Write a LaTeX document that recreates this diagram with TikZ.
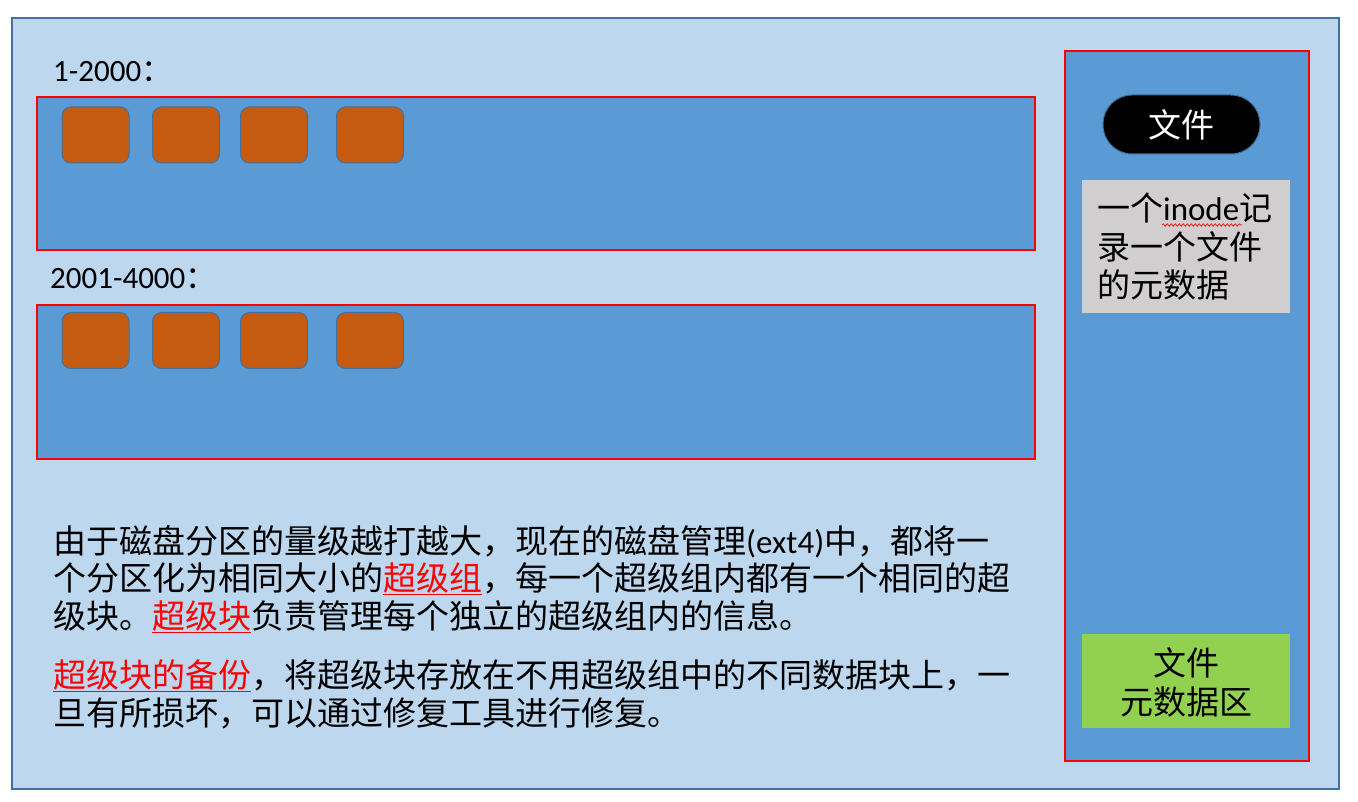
\documentclass[tikz,border=0pt]{standalone}
\usepackage{fontspec}
\setmainfont{Noto Sans CJK SC}
\newfontfamily\lat{Carlito}
\usetikzlibrary{decorations.pathmorphing}
\definecolor{outerfill}{HTML}{BDD7EE}
\definecolor{boxfill}{HTML}{5B9BD5}
\definecolor{edgeblue}{HTML}{41719C}
\definecolor{orangefill}{HTML}{C55A11}
\definecolor{grayfill}{HTML}{D0CECE}
\definecolor{greenfill}{HTML}{92D050}
\definecolor{hred}{HTML}{FF0000}
\newcommand{\hl}[1]{\textcolor{hred}{\underline{#1}}}
\begin{document}
\begin{tikzpicture}[x=1pt,y=-1pt,
  outerbox/.style={draw=edgeblue,line width=1.5pt,fill=outerfill,inner sep=0pt},
  groupbox/.style={draw=hred,line width=1.5pt,fill=boxfill,inner sep=0pt,minimum width=998pt},
  blockbox/.style={draw=edgeblue,line width=1pt,fill=orangefill,rounded corners=9pt,inner sep=0pt,minimum width=67pt,minimum height=56pt},
  txt/.style={inner sep=0pt,anchor=base west,font=\fontsize{33}{38}\selectfont},
  lbl/.style={inner sep=0pt,anchor=base west,font=\fontsize{31}{34}\selectfont}
]
\useasboundingbox (0,0) rectangle (1358,802);
% outer frame
\node[outerbox,minimum width=1327pt,minimum height=771pt] (outer) at (675.5,403.5) {};
% group boxes
\node[groupbox,minimum height=153pt] (g1) at (536,173.5) {};
\node[groupbox,minimum height=154pt] (g2) at (536,382) {};
\node[lbl] (l1) at (53,82) {{\lat 1-2000}：};
\node[lbl] (l2) at (50,289) {{\lat 2001-4000}：};
% blocks
\node[blockbox] (a1) at (95.5,135) {};
\node[blockbox] (a2) at (186,135) {};
\node[blockbox] (a3) at (274,135) {};
\node[blockbox] (a4) at (370,135) {};
\node[blockbox] (b1) at (95.5,340.5) {};
\node[blockbox] (b2) at (186,340.5) {};
\node[blockbox] (b3) at (274,340.5) {};
\node[blockbox] (b4) at (370,340.5) {};
% right panel
\node[draw=hred,line width=1.5pt,fill=boxfill,inner sep=0pt,minimum width=244pt,minimum height=710pt] (panel) at (1187,406) {};
\node[draw=edgeblue,line width=1pt,fill=black,rounded corners=29pt,inner sep=0pt,minimum width=157pt,minimum height=59pt,text=white,font=\fontsize{33}{38}\selectfont] (file) at (1181.5,124.5) {文件};
\node[fill=grayfill,inner sep=0pt,minimum width=208pt,minimum height=133pt] (inode) at (1186,246.5) {};
\node[txt] (i1) at (1097,221) {一个{\lat inode}记};
\node[txt] (i2) at (1097,260) {录一个文件};
\node[txt] (i3) at (1097,298) {的元数据};
\draw[hred,line width=0.6pt,decorate,decoration={snake,amplitude=1.3pt,segment length=4pt}] (1162,225) -- (1242,225);
\node[fill=greenfill,inner sep=0pt,minimum width=208pt,minimum height=94pt] (meta) at (1186,680.5) {};
\node[txt,anchor=base] (m1) at (1186,675) {文件};
\node[txt,anchor=base] (m2) at (1186,714) {元数据区};
% paragraph text
\node[txt] (p1) at (53,553) {由于磁盘分区的量级越打越大，现在的磁盘管理{\lat (ext4)}中，都将一};
\node[txt] (p2) at (53,590.5) {个分区化为相同大小的\hl{超级组}，每一个超级组内都有一个相同的超};
\node[txt] (p3) at (53,628) {级块。\hl{超级块}负责管理每个独立的超级组内的信息。};
\node[txt] (p4) at (53,687) {\hl{超级块的备份}，将超级块存放在不用超级组中的不同数据块上，一};
\node[txt] (p5) at (53,725) {旦有所损坏，可以通过修复工具进行修复。};
\end{tikzpicture}
\end{document}
